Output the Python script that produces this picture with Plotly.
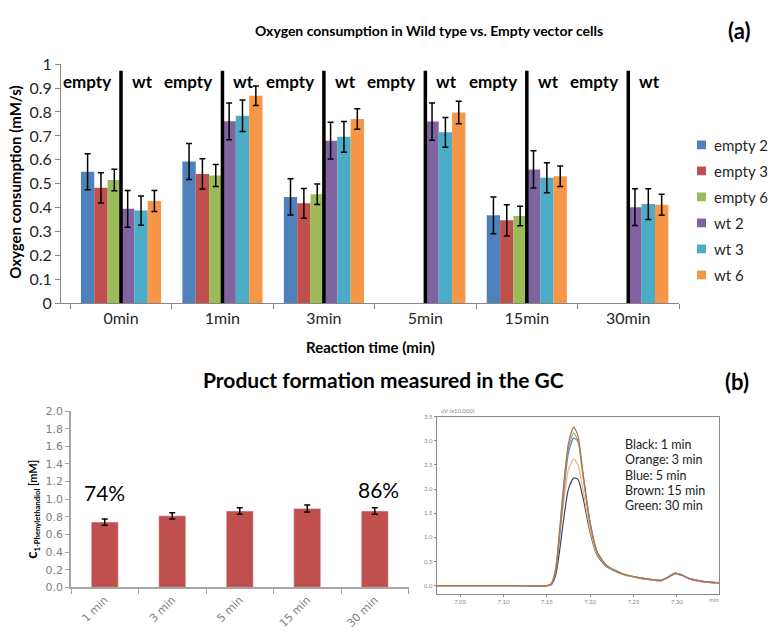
import plotly.graph_objects as go

# ---------------- (a) Oxygen consumption ----------------
times = ["0min", "1min", "3min", "5min", "15min", "30min"]
series_names = ["empty 2", "empty 3", "empty 6", "wt 2", "wt 3", "wt 6"]
series_colors = ["#4F81BD", "#C0504D", "#9BBB59", "#8064A2", "#4BACC6", "#F79646"]

empty2 = [0.550, 0.593, 0.445, None, 0.368, None]
empty3 = [0.483, 0.541, 0.418, None, 0.347, None]
empty6 = [0.516, 0.534, 0.456, None, 0.365, None]
wt2 = [0.395, 0.761, 0.680, 0.760, 0.560, 0.402]
wt3 = [0.388, 0.784, 0.696, 0.715, 0.525, 0.415]
wt6 = [0.428, 0.868, 0.771, 0.798, 0.531, 0.412]

empty2_err = [0.075, 0.075, 0.076, 0, 0.077, 0]
empty3_err = [0.063, 0.063, 0.062, 0, 0.065, 0]
empty6_err = [0.045, 0.046, 0.043, 0, 0.041, 0]
wt2_err = [0.077, 0.077, 0.077, 0.078, 0.078, 0.077]
wt3_err = [0.061, 0.066, 0.064, 0.062, 0.063, 0.064]
wt6_err = [0.044, 0.041, 0.043, 0.047, 0.043, 0.044]

y_ticks_a = [0, 0.1, 0.2, 0.3, 0.4, 0.5, 0.6, 0.7, 0.8, 0.9, 1]
y_ticktext_a = ["0", "0.1", "0.2", "0.3", "0.4", "0.5", "0.6", "0.7", "0.8", "0.9", "1"]

# ---------------- (b) Product formation ----------------
gc_times = ["1 min", "3 min", "5 min", "15 min", "30 min"]
product_conc = [0.741, 0.811, 0.866, 0.895, 0.866]
product_err = [0.035, 0.035, 0.037, 0.040, 0.037]
y_ticks_b = [0.0, 0.2, 0.4, 0.6, 0.8, 1.0, 1.2, 1.4, 1.6, 1.8, 2.0]

# ---------------- (b) Chromatogram ----------------
rt = [7.023, 7.100, 7.150, 7.155, 7.160, 7.165, 7.170, 7.175, 7.181, 7.186, 7.192,
      7.200, 7.208, 7.219, 7.238, 7.258, 7.281, 7.290, 7.298, 7.306, 7.316, 7.330, 7.349]
sig_brown = [0, 0, 0, 0.03, 0.30, 1.20, 2.20, 2.95, 3.28, 3.10, 2.30, 1.30, 0.70, 0.42, 0.24, 0.16, 0.11, 0.18, 0.26, 0.22, 0.14, 0.09, 0.06]
sig_green = [0, 0, 0, 0.03, 0.30, 1.15, 2.10, 2.85, 3.16, 3.00, 2.25, 1.28, 0.69, 0.41, 0.24, 0.16, 0.11, 0.18, 0.26, 0.22, 0.14, 0.09, 0.06]
sig_blue = [0, 0, 0, 0.02, 0.25, 1.05, 2.00, 2.75, 3.06, 2.98, 2.25, 1.30, 0.70, 0.42, 0.24, 0.16, 0.11, 0.18, 0.26, 0.22, 0.14, 0.09, 0.06]
sig_orange = [0, 0, 0, 0.05, 0.35, 1.05, 1.80, 2.40, 2.62, 2.50, 1.95, 1.15, 0.65, 0.40, 0.23, 0.15, 0.10, 0.17, 0.25, 0.21, 0.13, 0.08, 0.05]
sig_black = [0, 0, 0, 0.02, 0.20, 0.75, 1.45, 2.00, 2.23, 2.20, 1.80, 1.10, 0.63, 0.39, 0.23, 0.15, 0.10, 0.17, 0.25, 0.21, 0.13, 0.08, 0.05]
chrom_x_ticks = [7.05, 7.10, 7.15, 7.20, 7.25, 7.30]
chrom_y_ticks = [0.0, 0.5, 1.0, 1.5, 2.0, 2.5, 3.0, 3.5]
chrom_key = ["Black: 1 min", "Orange: 3 min", "Blue: 5 min", "Brown: 15 min", "Green: 30 min"]

W, H = 771, 641
def px(x):
    return x / W
def py(y):
    return 1 - y / H

FONT = "Lato"
fig = go.Figure()

values = [empty2, empty3, empty6, wt2, wt3, wt6]
errs = [empty2_err, empty3_err, empty6_err, wt2_err, wt3_err, wt6_err]
for name, col, v, e in zip(series_names, series_colors, values, errs):
    fig.add_trace(go.Bar(
        x=times, y=v, name=name, marker=dict(color=col, line=dict(width=0)),
        error_y=dict(type="data", array=e, visible=True, color="black", thickness=1.5, width=3),
        showlegend=False, xaxis="x", yaxis="y"))

fig.add_trace(go.Bar(
    x=gc_times, y=product_conc, marker=dict(color="#C0504D"), showlegend=False,
    error_y=dict(type="data", array=product_err, visible=True, color="black", thickness=1.5, width=3),
    xaxis="x2", yaxis="y2", width=0.4))

chroms = [(sig_black, "#3a4a5a"), (sig_orange, "#F6B27A"), (sig_blue, "#5a78e8"),
          (sig_green, "#86b06a"), (sig_brown, "#b5704e")]
for sig, col in chroms:
    fig.add_trace(go.Scatter(x=rt, y=sig, mode="lines",
                             line=dict(color=col, width=1.2, shape="spline", smoothing=0.6),
                             showlegend=False, xaxis="x3", yaxis="y3"))

shapes = []
annotations = []
for t in times:
    shapes.append(dict(type="line", xref="x", yref="y", x0=t, x1=t, y0=0, y1=0.972,
                       line=dict(color="black", width=3.5)))
    annotations.append(dict(x=t, y=0.929, xref="x", yref="y", text="<b>empty</b>", showarrow=False,
                            xanchor="right", yanchor="middle", xshift=-8,
                            font=dict(family=FONT, size=17, color="black")))
    annotations.append(dict(x=t, y=0.929, xref="x", yref="y", text="<b>wt</b>", showarrow=False,
                            xanchor="left", yanchor="middle", xshift=9,
                            font=dict(family=FONT, size=17, color="black")))

def txt(x, y, text, size, angle=0, color="black", xa="center", ya="middle"):
    return dict(x=px(x), y=py(y), xref="paper", yref="paper", showarrow=False, text=text,
                textangle=angle, xanchor=xa, yanchor=ya,
                font=dict(family=FONT, size=size, color=color))

# series key for panel (a)
for i, (name, col) in enumerate(zip(series_names, series_colors)):
    yc = 139 + 26.8 * i
    shapes.append(dict(type="rect", xref="paper", yref="paper",
                       x0=px(697), x1=px(706), y0=py(yc + 4.5), y1=py(yc - 4.5),
                       fillcolor=col, line=dict(width=0)))
    annotations.append(txt(712, yc, name, 15, color="#262626", xa="left"))

annotations += [
    txt(429, 21, "<b>Oxygen consumption in Wild type vs. Empty vector cells</b>", 14),
    txt(739, 21, "<b>(a)</b>", 22),
    txt(370, 347, "<b>Reaction time (min)</b>", 15),
    txt(15, 178, "<b>Oxygen consumption (mM/s)</b>", 15, angle=-90),
    txt(383, 381, "<b>Product formation measured in the GC</b>", 21),
    txt(737, 383, "<b>(b)</b>", 22),
    txt(32, 515, "<span style='font-size:15px'><b>c</b></span><sub><b>1-Phenylethandiol</b></sub><b> [mM]</b>",
        11, angle=-90),
    dict(x=gc_times[0], y=product_conc[0], xref="x2", yref="y2", yshift=30, showarrow=False,
         yanchor="middle", text="74%", font=dict(family=FONT, size=21, color="black")),
    dict(x=gc_times[4], y=product_conc[4], xref="x2", yref="y2", yshift=22, xshift=4, showarrow=False,
         yanchor="middle", text="86%", font=dict(family=FONT, size=21, color="black")),
    txt(439, 418, "uV (x10,000)", 6, color="#888888", xa="left", ya="bottom"),
    txt(714, 608, "min", 6, color="#888888"),
]
key_y = [448, 463.7, 479.3, 495, 510.7]
for label, yy in zip(chrom_key, key_y):
    annotations.append(txt(623, yy, label, 12.5, color="#222222", xa="left"))

fig.update_layout(
    width=W, height=H, autosize=False,
    margin=dict(l=0, r=0, t=0, b=0),
    paper_bgcolor="white", plot_bgcolor="white",
    barmode="group", bargap=0.21, bargroupgap=0,
    showlegend=False,
    xaxis=dict(domain=[px(61), px(679)], anchor="y", type="category",
               showline=True, linecolor="#868686", linewidth=1,
               ticks="outside", tickson="boundaries", ticklen=5, tickcolor="#868686",
               tickfont=dict(family=FONT, size=16, color="#262626"), showgrid=False),
    yaxis=dict(domain=[py(302.3), py(55.8)], anchor="x", range=[0, 1],
               tickvals=y_ticks_a, ticktext=y_ticktext_a,
               showline=True, linecolor="#868686", linewidth=1,
               ticks="outside", ticklen=5, tickcolor="#868686",
               tickfont=dict(family=FONT, size=16, color="#262626"), showgrid=False, zeroline=False),
    xaxis2=dict(domain=[px(71), px(408.5)], anchor="y2", type="category",
                showline=True, linecolor="#A6A6A6", linewidth=1.5,
                ticks="outside", tickson="boundaries", ticklen=5, tickcolor="#A6A6A6",
                tickangle=-45, tickfont=dict(family="DejaVu Sans", size=11, color="#7f7f7f"),
                showgrid=False),
    yaxis2=dict(domain=[py(595), py(413.3)], anchor="x2", range=[0, 2],
                tickvals=y_ticks_b, tickformat=".1f",
                showline=True, linecolor="#A6A6A6", linewidth=1.5,
                ticks="outside", ticklen=4, tickcolor="#A6A6A6",
                tickfont=dict(family="DejaVu Sans", size=11, color="#7f7f7f"),
                showgrid=False, zeroline=False),
    xaxis3=dict(domain=[px(436.7), px(719.3)], anchor="y3", range=[7.023, 7.349],
                tickvals=chrom_x_ticks, tickformat=".2f",
                showline=True, mirror=True, linecolor="#8a8a8a", linewidth=1,
                ticks="outside", ticklen=2, tickcolor="#8a8a8a",
                tickfont=dict(family=FONT, size=6, color="#888888"), showgrid=False, zeroline=False),
    yaxis3=dict(domain=[py(601.7), py(419)], anchor="x3", range=[-0.17, 3.5],
                tickvals=chrom_y_ticks, tickformat=".1f",
                showline=True, mirror=True, linecolor="#8a8a8a", linewidth=1,
                ticks="outside", ticklen=2, tickcolor="#8a8a8a",
                tickfont=dict(family=FONT, size=6, color="#888888"), showgrid=False, zeroline=False),
    shapes=shapes,
    annotations=annotations,
)

fig.write_html("out.html",
               config={"displayModeBar": False},
               post_script="document.body.style.margin='0';document.body.style.overflow='hidden';")
